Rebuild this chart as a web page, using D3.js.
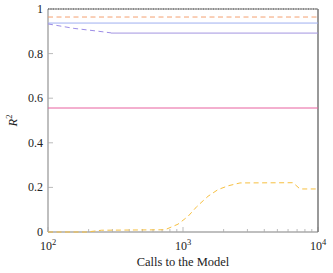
<!DOCTYPE html>
<html>
<head>
<meta charset="utf-8">
<script src="https://cdn.jsdelivr.net/npm/d3@7"></script>
<style>
  body { margin: 0; background: #fff; }
  text { font-family: "Liberation Serif", "DejaVu Serif", serif; fill: #222; }
</style>
</head>
<body>
<script>
// values
const xTicks = [100, 1000, 10000];
const xTickExp = ["2", "3", "4"];
const yTicks = [0, 0.2, 0.4, 0.6, 0.8, 1];
const yTickLabels = ["0", "0.2", "0.4", "0.6", "0.8", "1"];

const perfectLine = [[100, 1], [10000, 1]];
const orangeLine = [[100, 0.964], [10000, 0.964]];
const blueLine = [[100, 0.937], [10000, 0.937]];
const purpleDashed = [[100, 0.933], [156, 0.913], [231, 0.901], [293, 0.893]];
const purpleSolid = [[293, 0.892], [10000, 0.892]];
const pinkLine = [[100, 0.556], [10000, 0.556]];
const yellowCalls = [100, 194, 250, 735, 918, 1089, 1270, 1531, 1815, 2154, 2644, 6531, 7356, 10000];
const yellowR2 = [0.0, 0.0, 0.008, 0.01, 0.035, 0.07, 0.115, 0.16, 0.19, 0.207, 0.22, 0.221, 0.193, 0.193];

var margin = {top: 9, right: 15, bottom: 41, left: 48},
    width = 333 - margin.left - margin.right,
    height = 273 - margin.top - margin.bottom;

var svg = d3.select("body").append("svg")
    .attr("width", 333)
    .attr("height", 273)
  .append("g")
    .attr("transform", "translate(" + margin.left + "," + margin.top + ")");

var x = d3.scaleLog().domain([100, 10000]).range([0, width]);
var y = d3.scaleLinear().domain([0, 1]).range([height, 0]);

var line = d3.line()
    .x(function(d) { return x(d[0]); })
    .y(function(d) { return y(d[1]); });

// minor ticks on the log axis
var minor = [];
for (let k = 100; k < 10000; k *= 10) {
  for (let m = 2; m < 10; m += 1) minor.push(k * m);
}

// x axis, ticks pointing inward
var xAxis = svg.append("g")
    .attr("transform", "translate(0," + height + ")");
xAxis.selectAll(".minor")
    .data(minor)
    .enter()
    .append("line")
    .attr("x1", function(d) { return x(d); })
    .attr("x2", function(d) { return x(d); })
    .attr("y1", 0)
    .attr("y2", -3)
    .attr("stroke", "#bbb");
xAxis.selectAll(".major")
    .data(xTicks)
    .enter()
    .append("line")
    .attr("x1", function(d) { return x(d); })
    .attr("x2", function(d) { return x(d); })
    .attr("y1", 0)
    .attr("y2", -5)
    .attr("stroke", "#bbb");
var xl = xAxis.selectAll(".lbl")
    .data(xTicks)
    .enter()
    .append("text")
    .attr("x", function(d) { return x(d); })
    .attr("y", 18)
    .attr("text-anchor", "middle")
    .style("font-size", "12px");
xl.append("tspan").text("10");
xl.append("tspan")
    .attr("dy", -5)
    .style("font-size", "8.5px")
    .text(function(d, i) { return xTickExp[i]; });

// y axis
var yAxis = svg.append("g");
yAxis.selectAll("line")
    .data(yTicks)
    .enter()
    .append("line")
    .attr("x1", 0)
    .attr("x2", 5)
    .attr("y1", function(d) { return y(d); })
    .attr("y2", function(d) { return y(d); })
    .attr("stroke", "#bbb");
yAxis.selectAll("text")
    .data(yTicks)
    .enter()
    .append("text")
    .attr("x", -5)
    .attr("y", function(d) { return y(d) + 4; })
    .attr("text-anchor", "end")
    .style("font-size", "12px")
    .text(function(d, i) { return yTickLabels[i]; });

// frame
svg.append("line").attr("x1", 0).attr("x2", 0).attr("y1", 0).attr("y2", height)
    .attr("stroke", "#aaa").attr("stroke-width", 1.5);
svg.append("line").attr("x1", 0).attr("x2", width).attr("y1", height).attr("y2", height)
    .attr("stroke", "#aaa").attr("stroke-width", 1.5);
svg.append("line").attr("x1", 0).attr("x2", width).attr("y1", 0).attr("y2", 0)
    .attr("stroke", "#aaa").attr("stroke-width", 1.5);
svg.append("line").attr("x1", width).attr("x2", width).attr("y1", 0).attr("y2", height)
    .attr("stroke", "#777").attr("stroke-width", 1.5);

// series
svg.append("path").datum(perfectLine).attr("d", line)
    .attr("fill", "none").attr("stroke", "#555").attr("stroke-width", 1)
    .attr("stroke-dasharray", "1,1.5");
svg.append("path").datum(orangeLine).attr("d", line)
    .attr("fill", "none").attr("stroke", "#f4a070").attr("stroke-width", 1)
    .attr("stroke-dasharray", "5,3.5");
svg.append("path").datum(blueLine).attr("d", line)
    .attr("fill", "none").attr("stroke", "#9fb0f0").attr("stroke-width", 1);
svg.append("path").datum(purpleDashed).attr("d", line)
    .attr("fill", "none").attr("stroke", "#9c8ce6").attr("stroke-width", 1)
    .attr("stroke-dasharray", "5,3.5");
svg.append("path").datum(purpleSolid).attr("d", line)
    .attr("fill", "none").attr("stroke", "#a294e0").attr("stroke-width", 1);
svg.append("path").datum(pinkLine).attr("d", line)
    .attr("fill", "none").attr("stroke", "#e8609f").attr("stroke-width", 1);
svg.append("path").datum(d3.zip(yellowCalls, yellowR2)).attr("d", line)
    .attr("fill", "none").attr("stroke", "#f7c040").attr("stroke-width", 1)
    .attr("stroke-dasharray", "5,3.5");

// axis titles
svg.append("text")
    .attr("x", width / 2)
    .attr("y", height + 34)
    .attr("text-anchor", "middle")
    .style("font-size", "12.5px")
    .text("Calls to the Model");

var yt = svg.append("text")
    .attr("transform", "translate(-31," + (height / 2) + ") rotate(-90)")
    .attr("text-anchor", "middle")
    .style("font-size", "12.5px");
yt.append("tspan").style("font-style", "italic").text("R");
yt.append("tspan").attr("dy", -5).style("font-size", "8.5px").text("2");
</script>
</body>
</html>
